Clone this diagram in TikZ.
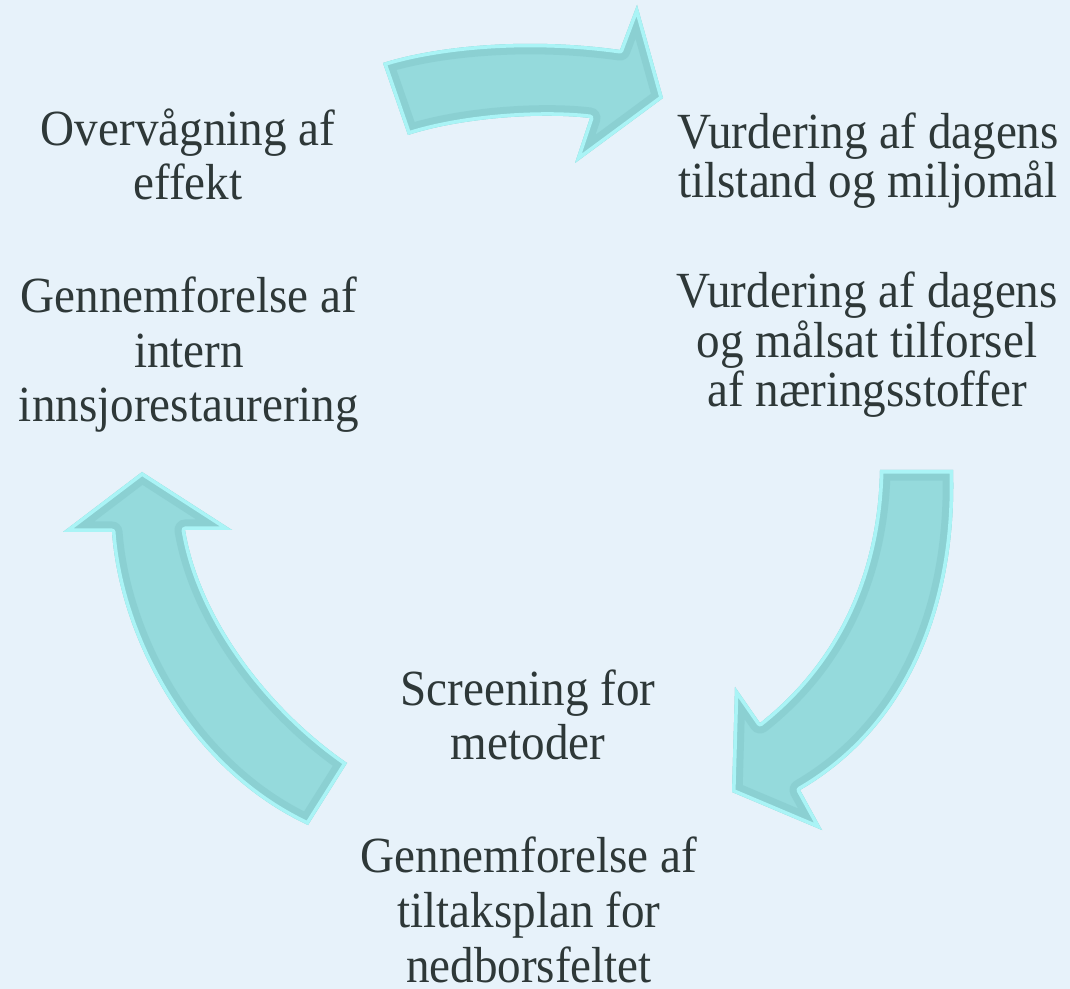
\documentclass[tikz,border=0pt]{standalone}
\usepackage{fontspec}
\setmainfont{Liberation Serif}[FakeStretch=0.93]

\definecolor{bgblue}{RGB}{231,242,250}
\definecolor{arrowteal}{RGB}{149,218,220}
\definecolor{arrowdark}{RGB}{118,186,190}
\definecolor{arrowlight}{RGB}{170,244,246}
\definecolor{labelgray}{RGB}{46,56,56}

\newcommand{\bevelarrow}[1]{%
  \fill[arrowteal] #1;
  \begin{scope}
    \clip #1;
    \draw[arrowdark,line width=6pt,opacity=0.3] #1;
    \draw[arrowlight,line width=2pt] #1;
  \end{scope}
}

\begin{document}
\begin{tikzpicture}[x=0.01cm,y=-0.01cm,line join=round,
  lbl/.style={align=center,anchor=base,inner sep=0pt,text=labelgray,
    font=\fontsize{14.4pt}{15.6pt}\selectfont},
  tight/.style={font=\fontsize{14.4pt}{14.2pt}\selectfont}]
  \fill[bgblue] (0,0) rectangle (1070,989);
  \useasboundingbox (0,0) rectangle (1070,989);

  \bevelarrow{(383,63) .. controls (430,48) and (520,36) .. (620,50) -- (637,5) -- (663,98) -- (575,163) -- (590,118) .. controls (540,112) and (460,118) .. (408,135) -- cycle}
  \bevelarrow{(953,470) .. controls (957,600) and (912,725) .. (800,790) -- (822,830) -- (732,792) -- (735,687) -- (760,723) .. controls (840,660) and (878,570) .. (880,470) -- cycle}
  \bevelarrow{(347,763) .. controls (270,710) and (200,620) .. (185,530) -- (232,530) -- (142,472) -- (63,532) -- (112,532) .. controls (120,640) and (190,770) .. (308,825) -- cycle}

  \node[lbl] (overv) at (188,200) {Overvågning af\\effekt};
  \node[lbl,tight] (vurdtilstand) at (868,198) {Vurdering af dagens\\tilstand og miljomål};
  \node[lbl,tight] (vurdtilforsel) at (867,407) {Vurdering af dagens\\og målsat tilforsel\\af næringsstoffer};
  \node[lbl] (screening) at (528,760) {Screening for\\metoder};
  \node[lbl] (tiltak) at (529,982) {Gennemforelse af\\tiltaksplan for\\nedborsfeltet};
  \node[lbl] (intern) at (189,422) {Gennemforelse af\\intern\\innsjorestaurering};
\end{tikzpicture}
\end{document}
